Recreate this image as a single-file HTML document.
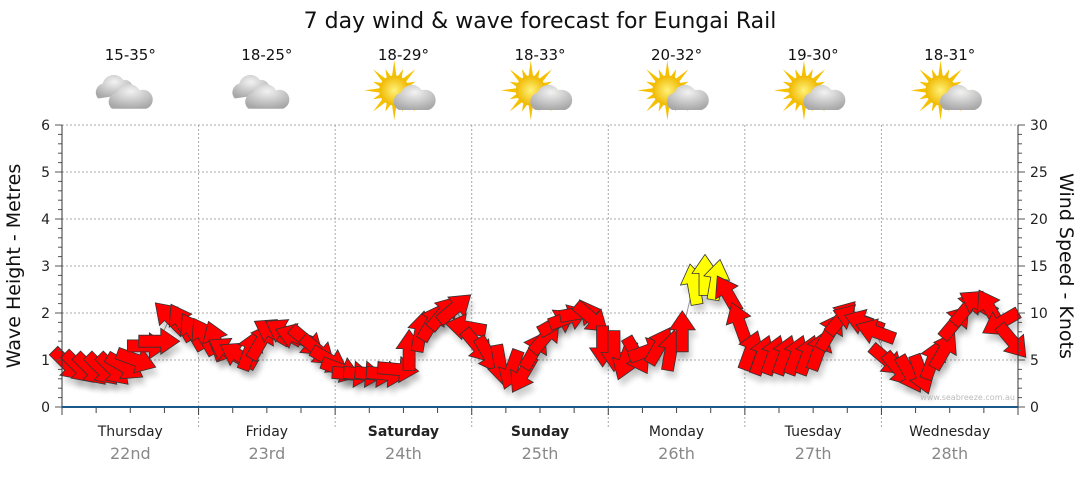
<!DOCTYPE html>
<html><head><meta charset="utf-8"><style>
body{margin:0;background:#fff;width:1080px;height:475px;overflow:hidden;font-family:"DejaVu Sans","Liberation Sans",sans-serif}
</style></head><body>
<svg id="c" width="1080" height="475" xmlns="http://www.w3.org/2000/svg">
<defs>
<radialGradient id="cl" cx="0.5" cy="0.3" r="0.7"><stop offset="0" stop-color="#f2f2f2"/><stop offset="1" stop-color="#a8a8a8"/></radialGradient>
<radialGradient id="sun" cx="0.5" cy="0.5" r="0.5"><stop offset="0" stop-color="#fff27a"/><stop offset="1" stop-color="#f0b800"/></radialGradient>
<filter id="sh" x="-50%" y="-50%" width="200%" height="200%"><feGaussianBlur stdDeviation="3"/></filter>
</defs>
<text x="540" y="28" text-anchor="middle" font-size="22" fill="#111">7 day wind &amp; wave forecast for Eungai Rail</text>
<g id="grid"></g>
<g id="icons"></g>
<g id="marks"></g>
<g id="axes"></g>
<text transform="translate(20,266) rotate(-90)" text-anchor="middle" font-size="19" fill="#111">Wave Height - Metres</text>
<text transform="translate(1060,266) rotate(90)" text-anchor="middle" font-size="19" fill="#111">Wind Speed - Knots</text>
<text x="1015" y="400" text-anchor="end" font-size="8" fill="#bbb">www.seabreeze.com.au</text>
</svg>
<script>
const days=["Thursday","Friday","Saturday","Sunday","Monday","Tuesday","Wednesday"];
const dates=["22nd","23rd","24th","25th","26th","27th","28th"];
const temps=["15-35°","18-25°","18-29°","18-33°","20-32°","19-30°","18-31°"];
const iconTypes=["cloud","cloud","sun","sun","sun","sun","sun"];
const waveTicks=[0,1,2,3,4,5,6];
const windTicks=[0,5,10,15,20,25,30];
const windSpeed=[4.5,4.2,4,4,4,4.3,5,6.5,7,9.5,9,8,
7.5,7,6,5.5,6,7,8,8,7.5,7,6,5,
4,3.5,3.5,3.5,3.5,4,6,8,9,10,10.5,8.5,
6.5,5.5,4.5,4,3.5,6,7.5,9,9.5,10,9.5,6.5,
6,5,5.5,6,6.5,6,8,13,14,13.5,12,9,
6,5.5,5.5,5.5,5.5,5.5,6,8,9.5,9.5,9,8,
5,4,3.5,3.5,5,6,9,10.5,11,10.5,9,7];
const windDir=[135,135,135,135,135,120,110,90,90,315,330,330,
330,340,300,300,20,30,300,300,290,130,130,120,
110,95,95,95,95,95,0,10,30,40,50,280,
140,150,170,200,210,30,40,60,70,80,130,180,
180,200,150,70,30,10,0,350,0,10,330,340,
20,20,20,20,20,20,20,30,40,290,290,290,
130,140,150,160,20,30,40,40,300,330,240,140];
const X0=62,X1=1018,Y0=407,Y1=125,NS="http://www.w3.org/2000/svg";
const dayW=(X1-X0)/7;
const xT=i=>X0+(i+0.5)*(X1-X0)/windSpeed.length;
const yW=v=>Y0-v/30*(Y0-Y1);
const yM=v=>Y0-v/6*(Y0-Y1);
function mk(t,a,p){const e=document.createElementNS(NS,t);for(const k in a)e.setAttribute(k,a[k]);(p||document.getElementById('c')).appendChild(e);return e;}
const grid=document.getElementById('grid'),axes=document.getElementById('axes'),marks=document.getElementById('marks'),icons=document.getElementById('icons');
waveTicks.forEach(v=>{if(v>0){const l=mk('line',{x1:X0,x2:X1,y1:yM(v),y2:yM(v),stroke:'#aaa','stroke-dasharray':'2,2'},grid);

}
const t=mk('text',{x:50,y:yM(v)+5,'text-anchor':'end','font-size':14,fill:'#222'},axes);t.textContent=v;

});
windTicks.forEach(v=>{const t=mk('text',{x:1030,y:yW(v)+5,'font-size':14,fill:'#222'},axes);t.textContent=v;

});
for(let k=0;k<=30;k++){const y=Y0-k*(Y0-Y1)/30;mk('line',{x1:X0-(k%5?4:7),x2:X0,y1:y,y2:y,stroke:'#555'},axes);mk('line',{x1:X1,x2:X1+(k%5?4:7),y1:y,y2:y,stroke:'#555'},axes);}
mk('line',{x1:X0,x2:X0,y1:Y1,y2:Y0,stroke:'#333'},axes);mk('line',{x1:X1,x2:X1,y1:Y1,y2:Y0,stroke:'#333'},axes);
for(let d=1;d<7;d++){const l=mk('line',{x1:X0+d*dayW,x2:X0+d*dayW,y1:Y1,y2:Y0+20,stroke:'#aaa','stroke-dasharray':'2,2'},grid);

}
for(let k=0;k<=28;k++){const x=X0+k*dayW/4;mk('line',{x1:x,x2:x,y1:Y0,y2:Y0+(k%4?6:8),stroke:'#444'},axes);}
mk('line',{x1:X0,x2:X1,y1:Y0,y2:Y0,stroke:'#1a5a8a','stroke-width':2},axes);
days.forEach((d,i)=>{const cx=X0+(i+0.5)*dayW;const bold=(d=="Saturday"||d=="Sunday");
const t=mk('text',{x:cx,y:436,'text-anchor':'middle','font-size':14,fill:'#222','font-weight':bold?'bold':'normal'},axes);t.textContent=d;


const t2=mk('text',{x:cx,y:459,'text-anchor':'middle','font-size':16,fill:'#888'},axes);t2.textContent=dates[i];


const t3=mk('text',{x:cx,y:60,'text-anchor':'middle','font-size':15,fill:'#111'},icons);t3.textContent=temps[i];


const g=mk('g',{transform:`translate(${cx},95) scale(1.15)`},icons);


if(iconTypes[i]=="sun"){for(let r=0;r<16;r++){const a=r*Math.PI/8;mk('polygon',{points:`${-8+12*Math.cos(a)-2*Math.sin(a)},${-4+12*Math.sin(a)+2*Math.cos(a)} ${-8+(r%2?20:26)*Math.cos(a)},${-4+(r%2?20:26)*Math.sin(a)} ${-8+12*Math.cos(a)+2*Math.sin(a)},${-4+12*Math.sin(a)-2*Math.cos(a)}`,fill:'#f5c000'},g);}
mk('circle',{cx:-8,cy:-4,r:13,fill:'url(#sun)'},g);
mk('path',{d:'M-4,13 a8,8 0 0 1 2,-15 a10,10 0 0 1 18,-2 a8,8 0 0 1 6,17 z',fill:'url(#cl)'},g);}
else{mk('path',{d:'M-28,3 a8,8 0 0 1 4,-13 a10,10 0 0 1 18,-3 a7,7 0 0 1 6,12 z',fill:'url(#cl)'},g);
mk('path',{d:'M-16,12 a8,8 0 0 1 4,-14 a11,11 0 0 1 20,-2 a7,7 0 0 1 6,16 z',fill:'url(#cl)'},g);}
});
let pts=windSpeed.map((v,i)=>xT(i)+','+yW(v)).join(' ');
mk('polyline',{points:pts,fill:'none',stroke:'#999','stroke-width':1},marks);
const AR='M-6,20 L6,20 L6,-2 L13,-2 L0,-21 L-13,-2 L-6,-2 Z';
windSpeed.forEach((v,i)=>{mk('path',{d:AR,fill:'#000',opacity:0.18,filter:'url(#sh)',transform:`translate(${xT(i)+3},${yW(v)+7}) rotate(${windDir[i]})`},marks);});
windSpeed.forEach((v,i)=>{const p=mk('path',{d:AR,fill:v>=12.5?'#ffff00':'#ff0000',stroke:'#333','stroke-width':0.8,transform:`translate(${xT(i)},${yW(v)}) rotate(${windDir[i]})`},marks);

});
</script>
</body></html>
